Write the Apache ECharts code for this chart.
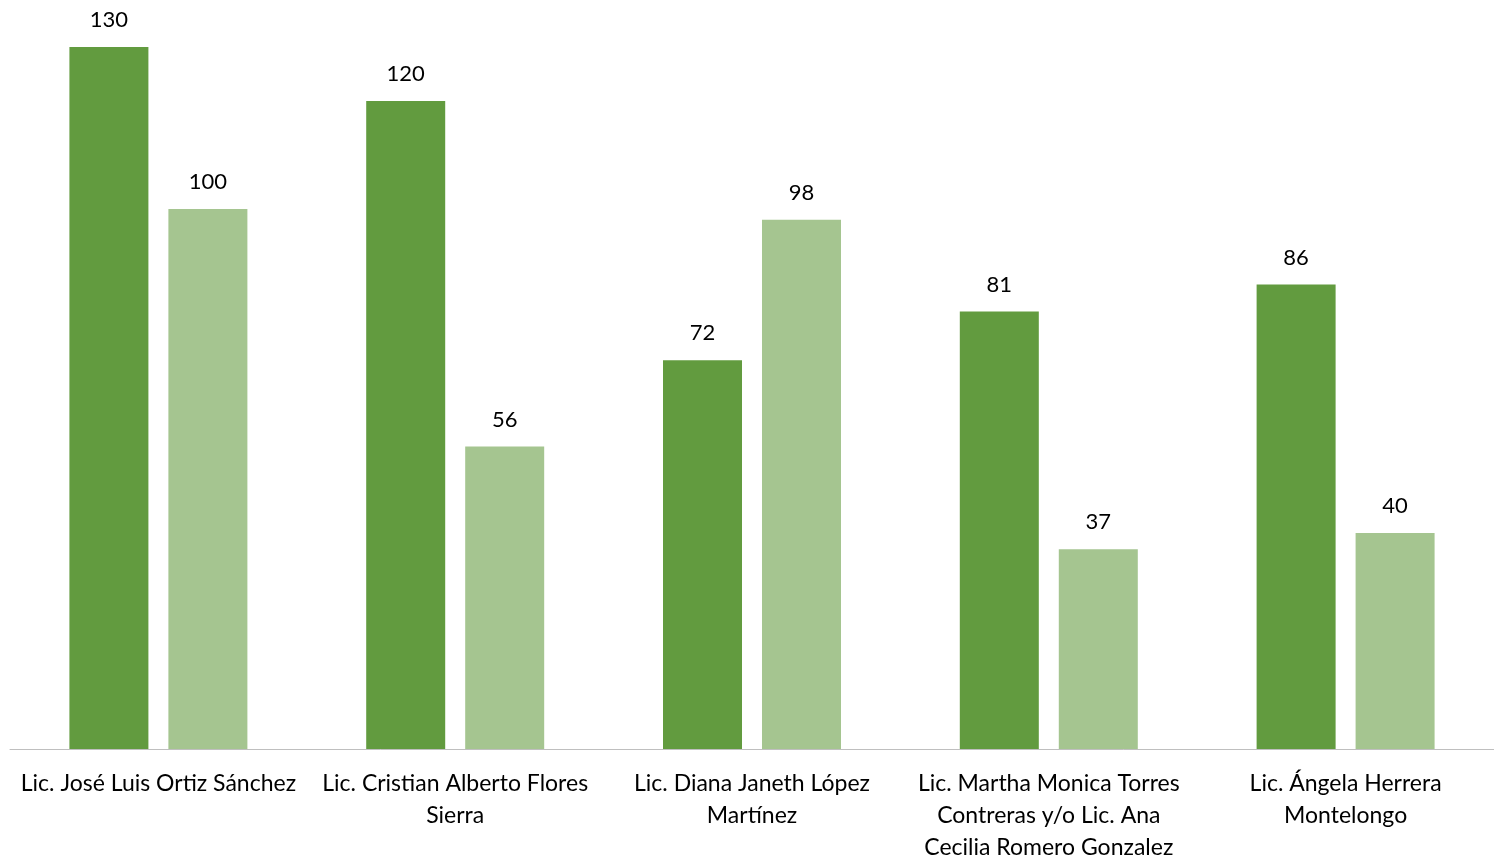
<!DOCTYPE html>
<html>
<head>
<meta charset="utf-8">
<style>html,body{margin:0;padding:0;background:#fff}#c{width:1494px;height:864px}</style>
<script src="https://cdn.jsdelivr.net/npm/echarts@6/dist/echarts.min.js"></script>
</head>
<body>
<div id="c"></div>
<script>
const categories = [
  "Lic. José Luis Ortiz Sánchez",
  "Lic. Cristian Alberto Flores\nSierra",
  "Lic. Diana Janeth López\nMartínez",
  "Lic. Martha Monica Torres\nContreras y/o Lic. Ana\nCecilia Romero Gonzalez",
  "Lic. Ángela Herrera\nMontelongo"
];
const seriesA = [130, 120, 72, 81, 86];
const seriesB = [100, 56, 98, 37, 40];

const font = "Lato, 'Open Sans', sans-serif";
const chart = echarts.init(document.getElementById('c'));
chart.setOption({
  animation: false,
  backgroundColor: '#ffffff',
  grid: { left: 10, width: 1490, top: 47, height: 705, containLabel: false },
  xAxis: {
    type: 'category',
    data: categories,
    axisLine: { show: true, lineStyle: { color: '#bfbfbf', width: 1 } },
    axisTick: { show: false },
    axisLabel: { color: '#000', fontFamily: font, fontSize: 23, lineHeight: 32, margin: 19, interval: 0, align: 'center' }
  },
  yAxis: { type: 'value', min: 0, max: 130, show: false, splitLine: { show: false } },
  series: [
    { type: 'bar', data: seriesA, barWidth: 79, barGap: '25.3%', itemStyle: { color: '#629b3f' },
      label: { show: true, position: 'top', distance: 16, color: '#000', fontFamily: font, fontSize: 22 } },
    { type: 'bar', data: seriesB, barWidth: 79, itemStyle: { color: '#a5c590' },
      label: { show: true, position: 'top', distance: 16, color: '#000', fontFamily: font, fontSize: 22 } }
  ]
});
</script>
</body>
</html>
